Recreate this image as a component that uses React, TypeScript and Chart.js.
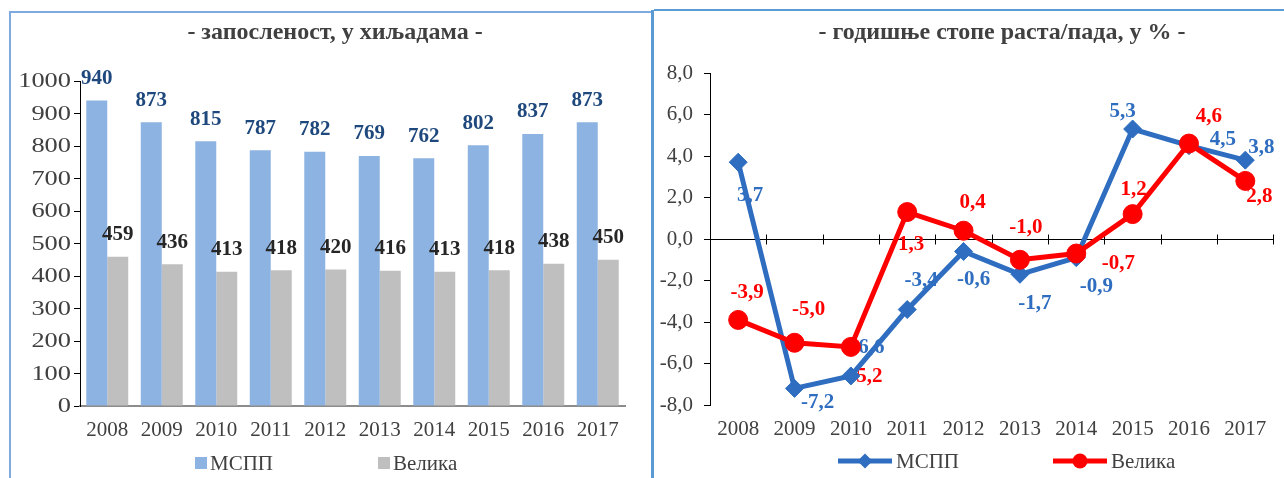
import React, { useEffect, useRef } from 'react';
import { Chart, registerables } from 'chart.js';

Chart.register(...registerables);

// ---------- data ----------
const years = ['2008', '2009', '2010', '2011', '2012', '2013', '2014', '2015', '2016', '2017'];
const seriesNames = ['МСПП', 'Велика'];
const employmentSME = [940, 873, 815, 787, 782, 769, 762, 802, 837, 873];
const employmentLarge = [459, 436, 413, 418, 420, 416, 413, 418, 438, 450];
const growthSME = [3.7, -7.2, -6.6, -3.4, -0.6, -1.7, -0.9, 5.3, 4.5, 3.8];
const growthLarge = [-3.9, -5.0, -5.2, 1.3, 0.4, -1.0, -0.7, 1.2, 4.6, 2.8];
const leftTitle = '- запосленост, у хиљадама -';
const rightTitle = '- годишње стопе раста/пада, у % -';

// ---------- styles ----------
const FONT = '"Liberation Serif", "Times New Roman", serif';
const TEXT = '#404040';
const BAR_BLUE = '#8DB3E2';
const BAR_GRAY = '#BFBFBF';
const BAR_LABEL_COLORS = ['#1F497D', '#262626'];
const LINE_BLUE = '#2E6DBF';
const LINE_RED = '#FF0000';

// label placement offsets (dx, dy) for the line chart, per point
const smeLabelOffsets = [[12, 33], [23, 14], [17, -28], [14, -29], [10, 28], [15, 29], [20, 29], [-10, -17], [34, -6], [16, -13]];
const largeLabelOffsets = [[9, -27], [14, -33], [15, 30], [4, 33], [9, -28], [6, -32], [42, 10], [1, -25], [20, -27], [14, 16]];

const fmt = (v: number) => v.toFixed(1).replace('.', ',');

const barDecor = {
  id: 'barDecor',
  afterDatasetsDraw(chart: any) {
    const ctx = chart.ctx;
    ctx.save();
    ctx.font = `bold 21px ${FONT}`;
    ctx.textAlign = 'center';
    ctx.textBaseline = 'middle';
    chart.data.datasets.forEach((ds: any, di: number) => {
      const meta = chart.getDatasetMeta(di);
      ctx.fillStyle = BAR_LABEL_COLORS[di];
      meta.data.forEach((el: any, i: number) => {
        ctx.fillText(String(ds.data[i]), el.x, el.y - 22);
      });
    });
    ctx.restore();
  },
  afterDraw(chart: any) {
    const ctx = chart.ctx;
    ctx.save();
    // y tick labels (wide face, as in the source)
    const ys = chart.scales.y;
    ctx.font = `20px ${FONT}`;
    ctx.fillStyle = TEXT;
    ctx.textAlign = 'right';
    ctx.textBaseline = 'middle';
    ys.ticks.forEach((t: any) => {
      const y = ys.getPixelForValue(t.value);
      ctx.save();
      ctx.translate(71, y + 1);
      ctx.scale(1.32, 1);
      ctx.fillText(String(t.value), 0, 0);
      ctx.restore();
    });
    // title
    ctx.font = `bold 24px ${FONT}`;
    ctx.textAlign = 'center';
    ctx.fillText(leftTitle, 335, 33);
    // legend
    ctx.font = `21px ${FONT}`;
    ctx.textAlign = 'left';
    const items = [
      { x: 195, color: BAR_BLUE, text: seriesNames[0] },
      { x: 378, color: BAR_GRAY, text: seriesNames[1] },
    ];
    items.forEach((it) => {
      ctx.fillStyle = it.color;
      ctx.fillRect(it.x, 457, 12, 12);
      ctx.fillStyle = TEXT;
      ctx.fillText(it.text, it.x + 15, 464);
    });
    ctx.restore();
  },
};

const lineDecor = {
  id: 'lineDecor',
  beforeDatasetsDraw(chart: any) {
    const ctx = chart.ctx;
    const { left, right } = chart.chartArea;
    const xs = chart.scales.x;
    const ys = chart.scales.y;
    const y0 = Math.round(ys.getPixelForValue(0)) + 0.5;
    ctx.save();
    ctx.strokeStyle = '#000';
    ctx.lineWidth = 1;
    ctx.beginPath();
    ctx.moveTo(left, y0);
    ctx.lineTo(right, y0);
    const half = (xs.getPixelForValue(1) - xs.getPixelForValue(0)) / 2;
    for (let i = 0; i < years.length; i++) {
      const x = Math.round(xs.getPixelForValue(i) + half) + 0.5;
      ctx.moveTo(x, y0 - 5);
      ctx.lineTo(x, y0 + 5);
    }
    ctx.stroke();

    // data labels (drawn beneath the lines)
    ctx.font = `bold 21px ${FONT}`;
    ctx.textAlign = 'center';
    ctx.textBaseline = 'middle';
    const offsets = [smeLabelOffsets, largeLabelOffsets];
    const colors = [LINE_BLUE, LINE_RED];
    chart.data.datasets.forEach((ds: any, di: number) => {
      const meta = chart.getDatasetMeta(di);
      ctx.fillStyle = colors[di];
      meta.data.forEach((el: any, i: number) => {
        const [dx, dy] = offsets[di][i];
        ctx.fillText(fmt(ds.data[i]), el.x + dx, el.y + dy);
      });
    });
    ctx.restore();
  },
  afterDraw(chart: any) {
    const ctx = chart.ctx;
    const off = 654;
    ctx.save();
    ctx.font = `bold 24px ${FONT}`;
    ctx.fillStyle = TEXT;
    ctx.textAlign = 'center';
    ctx.textBaseline = 'middle';
    ctx.fillText(rightTitle, 1002 - off, 33);

    // legend
    const ly = 461;
    const items = [
      { x0: 838 - off, color: LINE_BLUE, shape: 'diamond', text: seriesNames[0] },
      { x0: 1053 - off, color: LINE_RED, shape: 'circle', text: seriesNames[1] },
    ];
    ctx.font = `21px ${FONT}`;
    ctx.textAlign = 'left';
    items.forEach((it) => {
      ctx.strokeStyle = it.color;
      ctx.fillStyle = it.color;
      ctx.lineWidth = 5;
      ctx.beginPath();
      ctx.moveTo(it.x0, ly);
      ctx.lineTo(it.x0 + 54, ly);
      ctx.stroke();
      const cx = it.x0 + 27;
      ctx.beginPath();
      if (it.shape === 'diamond') {
        const r = 7.5;
        ctx.moveTo(cx, ly - r);
        ctx.lineTo(cx + r, ly);
        ctx.lineTo(cx, ly + r);
        ctx.lineTo(cx - r, ly);
        ctx.closePath();
      } else {
        ctx.arc(cx, ly, 7.5, 0, Math.PI * 2);
      }
      ctx.fill();
      ctx.fillStyle = TEXT;
      ctx.fillText(it.text, it.x0 + 58, ly + 1);
    });
    ctx.restore();
  },
};

export default function App() {
  const leftRef = useRef<HTMLCanvasElement>(null);
  const rightRef = useRef<HTMLCanvasElement>(null);

  useEffect(() => {
    const tickFont = { family: FONT, size: 21 };
    const left = new Chart(leftRef.current!, {
      type: 'bar',
      data: {
        labels: years,
        datasets: [
          { label: seriesNames[0], data: employmentSME, backgroundColor: BAR_BLUE, borderWidth: 0, categoryPercentage: 0.77, barPercentage: 1.0 },
          { label: seriesNames[1], data: employmentLarge, backgroundColor: BAR_GRAY, borderWidth: 0, categoryPercentage: 0.77, barPercentage: 1.0 },
        ],
      },
      options: {
        responsive: false,
        animation: false,
        devicePixelRatio: 1,
        layout: { padding: { left: 0, right: 26, top: 81, bottom: 0 } },
        plugins: { legend: { display: false }, title: { display: false }, tooltip: { enabled: false } },
        scales: {
          x: {
            grid: { display: false },
            border: { display: true, color: '#8C8C8C', width: 2 },
            ticks: { font: tickFont, color: TEXT, padding: 4 },
            afterFit: (s: any) => { s.height = 72; s.paddingLeft = 0; s.paddingRight = 0; },
          },
          y: {
            min: 0,
            max: 1000,
            ticks: { stepSize: 100, display: false },
            grid: { display: true, drawOnChartArea: false, drawTicks: true, tickLength: 6, color: '#000' },
            border: { display: true, color: '#000', width: 1 },
            afterFit: (s: any) => { s.width = 80; },
          },
        },
      },
      plugins: [barDecor],
    } as any);

    const right = new Chart(rightRef.current!, {
      type: 'line',
      data: {
        labels: years,
        datasets: [
          { label: seriesNames[0], data: growthSME, borderColor: LINE_BLUE, backgroundColor: LINE_BLUE, borderWidth: 5, pointStyle: 'rectRot', pointRadius: 9, pointBorderWidth: 1, pointBorderColor: LINE_BLUE, pointBackgroundColor: LINE_BLUE, tension: 0, order: 1 },
          { label: seriesNames[1], data: growthLarge, borderColor: LINE_RED, backgroundColor: LINE_RED, borderWidth: 5, pointStyle: 'circle', pointRadius: 9.5, pointBorderWidth: 1, pointBorderColor: LINE_RED, pointBackgroundColor: LINE_RED, tension: 0, order: 0 },
        ],
      },
      options: {
        responsive: false,
        animation: false,
        devicePixelRatio: 1,
        layout: { padding: { left: 0, right: 0, top: 73, bottom: 0 } },
        plugins: { legend: { display: false }, title: { display: false }, tooltip: { enabled: false } },
        scales: {
          x: {
            offset: true,
            grid: { display: false },
            border: { display: false },
            ticks: { font: tickFont, color: TEXT, padding: 4 },
            afterFit: (s: any) => { s.height = 73; s.paddingLeft = 0; s.paddingRight = 0; },
          },
          y: {
            min: -8,
            max: 8,
            ticks: { stepSize: 2, font: tickFont, color: TEXT, padding: 11, callback: (v: any) => fmt(Number(v)) },
            grid: { display: true, drawOnChartArea: false, drawTicks: true, tickLength: 6, color: '#000' },
            border: { display: true, color: '#000', width: 1 },
            afterFit: (s: any) => { s.width = 56; },
          },
        },
      },
      plugins: [lineDecor],
    } as any);

    return () => {
      left.destroy();
      right.destroy();
    };
  }, []);

  const abs = (l: number, t: number, w: number, h: number, bg: string): React.CSSProperties => ({
    position: 'absolute', left: l, top: t, width: w, height: h, background: bg, pointerEvents: 'none',
  });

  return (
    <div style={{ position: 'fixed', left: 0, top: 0, width: 1284, height: 478, background: '#fff', overflow: 'hidden' }}>
      <canvas ref={leftRef} width={651} height={478} style={{ position: 'absolute', left: 0, top: 0, width: 651, height: 478 }} />
      <canvas ref={rightRef} width={630} height={478} style={{ position: 'absolute', left: 654, top: 0, width: 630, height: 478 }} />
      {/* panel frames */}
      <div style={abs(9, 11, 2, 467, '#7FAADF')} />
      <div style={abs(9, 11, 643, 2, '#7FAADF')} />
      <div style={abs(651, 10, 3, 468, '#5B9BD5')} />
      <div style={abs(654, 9, 630, 2, '#5B9BD5')} />
    </div>
  );
}
